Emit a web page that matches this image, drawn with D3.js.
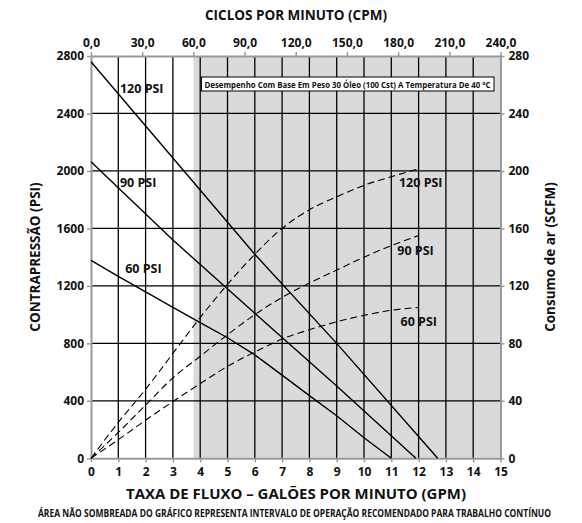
<!DOCTYPE html>
<html><head><meta charset="utf-8">
<script src="https://cdn.jsdelivr.net/npm/d3@7"></script>
<style>
body{margin:0;background:#fff;}
text{font-family:"Open Sans",sans-serif;font-weight:700;fill:#111;}
</style></head>
<body><svg id="c" width="582" height="523"></svg>
<script>
// ---- data ----
const gpmTicks = d3.range(0, 16);
const psiTicks = [0, 400, 800, 1200, 1600, 2000, 2400, 2800];
const scfmTicks = [0, 40, 80, 120, 160, 200, 240, 280];
const cpmTicks = [0, 30, 60, 90, 120, 150, 180, 210, 240];
const shadeStartGpm = 3.75;

const pressure120 = [[0,2760],[3,2090],[6,1420],[9,800],[12.7,0]];
const pressure90  = [[0,2064],[3,1519],[6,1010],[9,503],[11.9,0]];
const pressure60  = [[0,1378],[1,1266],[2,1159],[3,1050],[4,944],[5,839],[6,720],[7,579],[8,436],[9,296],[10,143],[11,0]];

const air120 = [[0,0],[1,25],[2,48],[3,73],[4,98],[5,121],[6,142],[7,160],[8,173],[9,182],[10,190],[11,196],[12,201.5]];
const air90  = [[0,0],[1,18],[2,37],[3,56],[4,71],[5,86],[6,100],[7,112],[8,122],[9,131],[10,140],[11,148],[12,155]];
const air60  = [[0,0],[1,13],[2,26.5],[3,39.5],[4,52],[5,64],[6,74],[7,83],[8,89.5],[9,95],[10,99.5],[11,103],[12,105]];

const svg = d3.select("#c");
const L = 91, R = 500.5, T = 56, B = 458.3;
const x = d3.scaleLinear().domain([0, 15]).range([L, R]);
const xTop = d3.scaleLinear().domain([0, 240]).range([L, R]);
const y = d3.scaleLinear().domain([0, 2800]).range([B, T]);
const yR = d3.scaleLinear().domain([0, 280]).range([B, T]);

// shaded area
svg.append("rect").attr("x", x(shadeStartGpm)).attr("y", T)
  .attr("width", x(15) - x(shadeStartGpm)).attr("height", B - T).attr("fill", "#dadada");

// grid
svg.append("g").selectAll("line").data(gpmTicks.filter(d => d > 0 && d < 15)).join("line")
  .attr("x1", d => x(d)).attr("x2", d => x(d)).attr("y1", T).attr("y2", B)
  .attr("stroke", "#000").attr("stroke-width", 1.3);
svg.append("g").selectAll("line").data(psiTicks.filter(d => d > 0 && d < 2800)).join("line")
  .attr("x1", L).attr("x2", R).attr("y1", d => y(d)).attr("y2", d => y(d))
  .attr("stroke", "#000").attr("stroke-width", 1.3);

// axes
function styleAxis(g) {
  g.select(".domain").attr("stroke", "#9a9a9a").attr("stroke-width", 2);
  g.selectAll(".tick line").attr("stroke", "#9a9a9a").attr("stroke-width", 1.5);
  g.selectAll(".tick text").attr("font-family", "Open Sans").attr("font-weight", 700)
    .attr("font-size", 12).attr("fill", "#111");
}
svg.append("g").attr("transform", `translate(0,${B})`)
  .call(d3.axisBottom(x).tickValues(gpmTicks).tickSize(4).tickSizeOuter(0).tickPadding(5))
  .call(styleAxis);
svg.append("g").attr("transform", `translate(0,${T})`)
  .call(d3.axisTop(xTop).tickValues(cpmTicks).tickSize(4).tickSizeOuter(0).tickPadding(5)
    .tickFormat(d => d3.format(".1f")(d).replace(".", ",")))
  .call(styleAxis);
svg.append("g").attr("transform", `translate(${L},0)`)
  .call(d3.axisLeft(y).tickValues(psiTicks).tickSize(4).tickSizeOuter(0).tickPadding(3).tickFormat(d3.format("d")))
  .call(styleAxis);
svg.append("g").attr("transform", `translate(${R},0)`)
  .call(d3.axisRight(yR).tickValues(scfmTicks).tickSize(4).tickSizeOuter(0).tickPadding(4).tickFormat(d3.format("d")))
  .call(styleAxis);

// lines
const lineP = d3.line().x(d => x(d[0])).y(d => y(d[1]));
const lineA = d3.line().x(d => x(d[0])).y(d => yR(d[1])).curve(d3.curveMonotoneX);
[pressure120, pressure90, pressure60].forEach(s => {
  svg.append("path").attr("d", lineP(s)).attr("fill", "none").attr("stroke", "#000").attr("stroke-width", 1.4);
});
[air120, air90, air60].forEach(s => {
  svg.append("path").attr("d", lineA(s)).attr("fill", "none").attr("stroke", "#000")
    .attr("stroke-width", 1.1).attr("stroke-dasharray", "7,4");
});

// line labels
const labels = [
  {t: "120 PSI", g: 1.06, v: 2541},
  {t: "90 PSI", g: 1.06, v: 1889},
  {t: "60 PSI", g: 1.25, v: 1287},
  {t: "120 PSI", g: 11.28, v: 1885},
  {t: "90 PSI", g: 11.22, v: 1414},
  {t: "60 PSI", g: 11.34, v: 920}
];
svg.append("g").selectAll("text").data(labels).join("text")
  .attr("x", d => x(d.g)).attr("y", d => y(d.v)).attr("font-size", 12.5).text(d => d.t);

// annotation box
svg.append("rect").attr("x", 201.5).attr("y", 77).attr("width", 292.5).attr("height", 14)
  .attr("fill", "#fff").attr("stroke", "#000").attr("stroke-width", 1);
svg.append("text").attr("x", 204.5).attr("y", 87.5).attr("font-size", 9.5)
  .attr("textLength", 286).attr("lengthAdjust", "spacingAndGlyphs")
  .text("Desempenho Com Base Em Peso 30 Óleo (100 Cst) A Temperatura De 40 °C");

// titles
svg.append("text").attr("x", 296).attr("y", 20).attr("text-anchor", "middle").attr("font-size", 13.5)
  .text("CICLOS POR MINUTO (CPM)");
svg.append("text").attr("x", 296).attr("y", 499).attr("text-anchor", "middle").attr("font-size", 14)
  .attr("textLength", 340).attr("lengthAdjust", "spacingAndGlyphs")
  .text("TAXA DE FLUXO – GALÕES POR MINUTO (GPM)");
const fnScale = 0.78;
svg.append("text").attr("transform", `translate(294.5,516.5) scale(${fnScale},1)`)
  .attr("text-anchor", "middle").attr("font-size", 9.8)
  .attr("textLength", 513 / fnScale).attr("lengthAdjust", "spacingAndGlyphs")
  .text("ÁREA NÃO SOMBREADA DO GRÁFICO REPRESENTA INTERVALO DE OPERAÇÃO RECOMENDADO PARA TRABALHO CONTÍNUO");
svg.append("text").attr("transform", "translate(40,257) rotate(-90)").attr("text-anchor", "middle")
  .attr("font-size", 13.5).text("CONTRAPRESSÃO (PSI)");
svg.append("text").attr("transform", "translate(555,257) rotate(-90)").attr("text-anchor", "middle")
  .attr("font-size", 13.5).text("Consumo de ar (SCFM)");
</script></body></html>
